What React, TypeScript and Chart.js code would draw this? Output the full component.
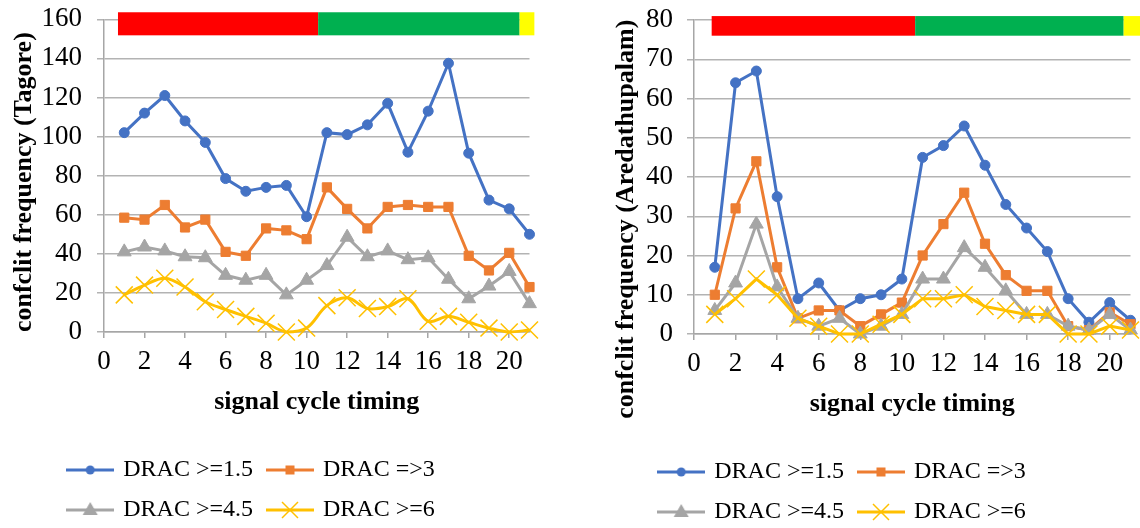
import React, { useEffect, useRef } from 'react';
import { Chart, registerables } from 'chart.js';

Chart.register(...registerables);

// ---------------- data ----------------
const cycles = [1, 2, 3, 4, 5, 6, 7, 8, 9, 10, 11, 12, 13, 14, 15, 16, 17, 18, 19, 20, 21];
const xTickValues = [0, 2, 4, 6, 8, 10, 12, 14, 16, 18, 20];

const seriesLabels = ['DRAC >=1.5', 'DRAC =>3', 'DRAC >=4.5', 'DRAC >=6'];

const tagoreDrac15 = [102, 112, 121, 108, 97, 78.5, 72, 74, 75, 59, 102, 101, 106, 117, 92, 113, 137.5, 91.5, 67.5, 63, 50];
const tagoreDrac3 = [58.5, 57.5, 65, 53.5, 57.5, 41, 39, 53, 52, 47.5, 74, 63, 53, 64, 65, 64, 64, 39, 31.5, 40.5, 23];
const tagoreDrac45 = [41, 43.5, 41.5, 38.5, 38, 29, 26.5, 29, 19, 26.5, 34, 48.5, 38.5, 41.5, 37, 38, 27, 17, 23.5, 31, 14.5];
const tagoreDrac6 = [19, 24, 27.5, 23, 15.5, 11.5, 8, 4.5, 0, 2, 13.5, 17.5, 12, 13, 17, 5.5, 8, 5, 2, 0, 1];

const aredDrac15 = [17, 64, 67, 35, 9, 13, 6, 9, 10, 14, 45, 48, 53, 43, 33, 27, 21, 9, 3, 8, 3.5];
const aredDrac3 = [10, 32, 44, 17, 4, 6, 6, 2, 5, 8, 20, 28, 36, 23, 15, 11, 11, 2, 1, 5.5, 2.5];
const aredDrac45 = [6, 13, 28, 12, 4, 2, 4, 0, 2, 5, 14, 14, 22, 17, 11, 5, 5, 2, 1, 5, 1];
const aredDrac6 = [5, 9, 14, 10, 4, 2, 0, 0, 2.5, 5, 9, 9, 10, 7, 6, 5, 5, 0, 0, 2, 1];

// signal phase band (x edges: red | green | yellow)
const tagoreBandEdges = [0.69, 10.57, 20.51, 21.24];
const tagoreBandY = [151.8, 163.6];
const aredBandEdges = [0.85, 10.64, 20.67, 21.6];
const aredBandY = [76, 81];
const bandColors = ['#FF0000', '#00B050', '#FFFF00'];

// ---------------- style ----------------
const FONT = "'Times New Roman', 'Liberation Serif', serif";
const COLORS = ['#4472C4', '#ED7D31', '#A5A5A5', '#FFC000'];
const GRID = '#B3B3B3';
const AXIS = '#A6A6A6';

function legendImage(kind: string, color: string): HTMLCanvasElement {
  const c = document.createElement('canvas');
  c.width = 48;
  c.height = 24;
  const g = c.getContext('2d')!;
  g.strokeStyle = color;
  g.fillStyle = color;
  g.lineWidth = 3;
  g.beginPath();
  g.moveTo(0, 12);
  g.lineTo(48, 12);
  g.stroke();
  if (kind === 'circle') {
    g.beginPath();
    g.arc(24, 12, 4.5, 0, Math.PI * 2);
    g.fill();
  } else if (kind === 'rect') {
    g.fillRect(19.5, 7.5, 9, 9);
  } else if (kind === 'triangle') {
    g.beginPath();
    g.moveTo(24, 4);
    g.lineTo(31.5, 17);
    g.lineTo(16.5, 17);
    g.closePath();
    g.fill();
  } else {
    g.lineWidth = 1.5;
    g.beginPath();
    g.moveTo(16, 4);
    g.lineTo(32, 20);
    g.moveTo(32, 4);
    g.lineTo(16, 20);
    g.stroke();
  }
  return c;
}

function bandPlugin(edges: number[], yr: number[]) {
  return {
    id: 'phaseBand',
    beforeDatasetsDraw(chart: any) {
      const { ctx, scales } = chart;
      const x = scales.x;
      const y = scales.y;
      const top = y.getPixelForValue(yr[1]);
      const bottom = y.getPixelForValue(yr[0]);
      ctx.save();
      for (let i = 0; i < bandColors.length; i++) {
        const x0 = x.getPixelForValue(edges[i]);
        const x1 = x.getPixelForValue(edges[i + 1]);
        ctx.fillStyle = bandColors[i];
        ctx.fillRect(x0, top, x1 - x0, bottom - top);
      }
      ctx.restore();
    },
  };
}

interface PanelCfg {
  series: number[][];
  yMax: number;
  yStep: number;
  yTitle: string;
  yWidth: number;
  yTitlePad: number;
  yTickPad: number;
  padTop: number;
  xTitleTop: number;
  xTitleBottom: number;
  bandEdges: number[];
  bandY: number[];
  smoothLast: number;
}

const kinds = ['circle', 'rect', 'triangle', 'crossRot'];
const radii = [5, 6.5, 8, 12];
const orders = [4, 3, 2, 1];

function makeConfig(p: PanelCfg): any {
  const images = kinds.map((k, i) => legendImage(k, COLORS[i]));
  const datasets = p.series.map((vals, i) => ({
    label: seriesLabels[i],
    data: cycles.map((c, j) => ({ x: c, y: vals[j] })),
    borderColor: COLORS[i],
    backgroundColor: COLORS[i],
    pointBorderColor: COLORS[i],
    pointBackgroundColor: COLORS[i],
    borderWidth: 3,
    pointStyle: kinds[i],
    pointRadius: radii[i],
    pointBorderWidth: i === 3 ? 1.5 : 1,
    tension: i === 3 ? p.smoothLast : 0,
    order: orders[i],
    clip: false,
  }));
  return {
    type: 'line',
    data: { datasets },
    plugins: [bandPlugin(p.bandEdges, p.bandY)],
    options: {
      responsive: false,
      animation: false,
      events: [],
      layout: { padding: { left: 0, right: 10, top: p.padTop, bottom: 0 } },
      plugins: {
        tooltip: { enabled: false },
        legend: {
          position: 'bottom',
          labels: {
            usePointStyle: true,
            pointStyleWidth: 42,
            padding: 16,
            color: '#000',
            font: { family: FONT, size: 24 },
            generateLabels: (chart: any) =>
              chart.data.datasets.map((ds: any, i: number) => ({
                text: ds.label,
                pointStyle: images[i],
                fillStyle: ds.borderColor,
                strokeStyle: ds.borderColor,
                lineWidth: 0,
                hidden: false,
                datasetIndex: i,
                fontColor: '#000',
              })),
          },
        },
      },
      scales: {
        x: {
          type: 'linear',
          min: 0,
          max: 21,
          afterBuildTicks: (s: any) => {
            s.ticks = xTickValues.map((v) => ({ value: v }));
          },
          ticks: {
            padding: 8,
            color: '#000',
            maxRotation: 0,
            autoSkip: false,
            font: { family: FONT, size: 27 },
          },
          grid: { drawOnChartArea: false, drawTicks: true, tickLength: 6, color: AXIS, lineWidth: 1.5 },
          border: { display: true, color: AXIS, width: 1.5 },
          title: {
            display: true,
            text: 'signal cycle timing',
            color: '#000',
            font: { family: FONT, size: 26, weight: 'bold' },
            padding: { top: p.xTitleTop, bottom: p.xTitleBottom },
          },
        },
        y: {
          min: 0,
          max: p.yMax,
          afterFit: (s: any) => {
            s.width = p.yWidth;
            s.paddingTop = 0;
            s.paddingBottom = 0;
          },
          ticks: {
            stepSize: p.yStep,
            padding: p.yTickPad,
            color: '#000',
            font: { family: FONT, size: 27 },
          },
          grid: { color: GRID, lineWidth: 1.5, tickLength: 7 },
          border: { display: true, color: AXIS, width: 1.5 },
          title: {
            display: true,
            text: p.yTitle,
            color: '#000',
            font: { family: FONT, size: 26, weight: 'bold' },
            padding: { top: p.yTitlePad, bottom: 0 },
          },
        },
      },
    },
  };
}

const leftCfg: PanelCfg = {
  series: [tagoreDrac15, tagoreDrac3, tagoreDrac45, tagoreDrac6],
  yMax: 160,
  yStep: 20,
  yTitle: 'confclit frequency (Tagore)  ',
  yWidth: 133,
  yTitlePad: 37.4,
  yTickPad: 15,
  padTop: 19.3,
  xTitleTop: 0,
  xTitleBottom: 24.4,
  bandEdges: tagoreBandEdges,
  bandY: tagoreBandY,
  smoothLast: 0.35,
};

const rightCfg: PanelCfg = {
  series: [aredDrac15, aredDrac3, aredDrac45, aredDrac6],
  yMax: 80,
  yStep: 10,
  yTitle: 'confclit frequency (Aredathupalam)             ',
  yWidth: 142,
  yTitlePad: 58.4,
  yTickPad: 14,
  padTop: 20,
  xTitleTop: 0,
  xTitleBottom: 24.4,
  bandEdges: aredBandEdges,
  bandY: aredBandY,
  smoothLast: 0,
};

function Panel({ cfg, left, width, height }: { cfg: PanelCfg; left: number; width: number; height: number }) {
  const ref = useRef<HTMLCanvasElement | null>(null);
  useEffect(() => {
    if (!ref.current) return;
    const chart = new Chart(ref.current, makeConfig(cfg));
    return () => chart.destroy();
  }, [cfg]);
  return (
    <canvas
      ref={ref}
      width={width}
      height={height}
      style={{ position: 'absolute', left, top: 0, width, height }}
    />
  );
}

export default function App() {
  return (
    <div
      style={{
        position: 'fixed',
        left: 0,
        top: 0,
        width: 1140,
        height: 528,
        overflow: 'hidden',
        background: '#fff',
      }}
    >
      <Panel cfg={leftCfg} left={-29} width={572} height={532} />
      <Panel cfg={rightCfg} left={552} width={592} height={534} />
    </div>
  );
}
